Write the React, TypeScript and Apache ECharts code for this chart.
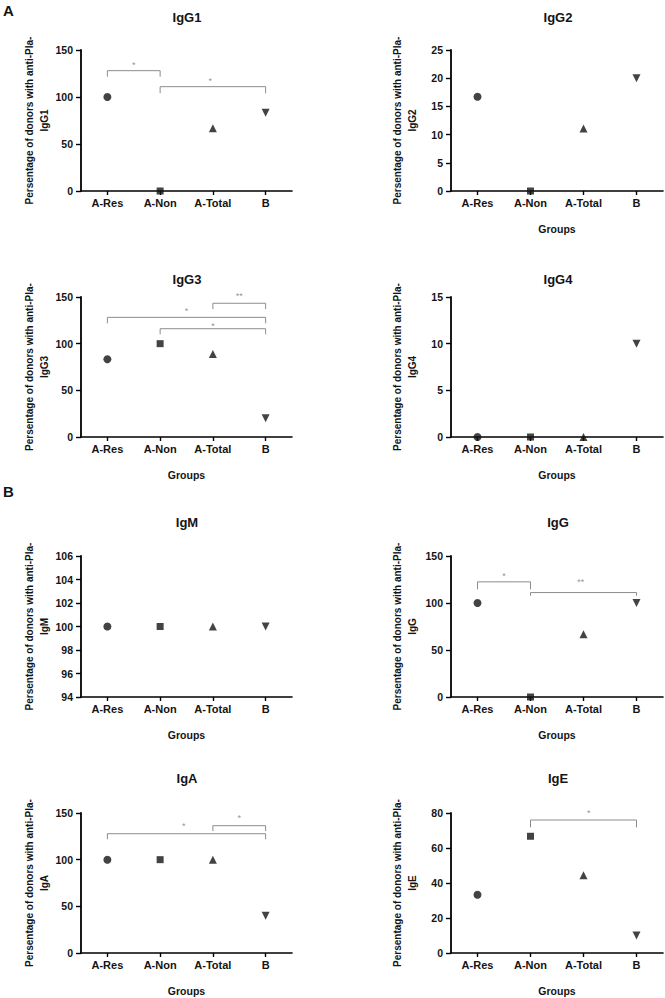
import React, { useEffect, useRef } from "react";
import * as echarts from "echarts";

// ---------- data ----------
const groups = ["A-Res", "A-Non", "A-Total", "B"];
const panelTitles = ["IgG1", "IgG2", "IgG3", "IgG4", "IgM", "IgG", "IgA", "IgE"];

const igg1 = [100, 0, 66.7, 83.3];
const igg2 = [16.7, 0, 11.1, 20];
const igg3 = [83.3, 100, 88.9, 20];
const igg4 = [0, 0, 0, 10];
const igm = [100, 100, 100, 100];
const igg = [100, 0, 66.7, 100];
const iga = [100, 100, 100, 40];
const ige = [33.3, 66.7, 44.4, 10];

const yMins = [0, 0, 0, 0, 94, 0, 0, 0];
const yMaxs = [150, 25, 150, 15, 106, 150, 150, 80];
const yIntervals = [50, 5, 50, 5, 2, 50, 50, 20];
const showGroupsLabel = [false, true, true, true, true, true, true, true];

// significance brackets (group indices): [from, to, top, leftEnd, rightEnd]
const igg1Brackets = [
  [0, 1, 128, 121.6, 121.6],
  [1, 3, 111, 104, 104],
];
const igg1Stars = [
  [0.5, 133.7, "*"],
  [1.95, 117, "*"],
];
const igg3Brackets = [
  [2, 3, 143.3, 137, 137],
  [0, 3, 128.2, 121.8, 121.8],
  [1, 3, 116, 110, 110],
];
const igg3Stars = [
  [2.5, 151.5, "**"],
  [1.5, 135, "*"],
  [2, 119, "*"],
];
const iggBrackets = [
  [0, 1, 122.5, 114.6, 114.6],
  [1, 3, 111.1, 107.7, 107.7],
];
const iggStars = [
  [0.5, 128.6, "*"],
  [1.95, 122, "**"],
];
const igaBrackets = [
  [2, 3, 136.4, 130.7, 130.7],
  [0, 3, 127.8, 121.8, 121.8],
];
const igaStars = [
  [2.5, 144.6, "*"],
  [1.45, 135.8, "*"],
];
const igeBrackets = [[1, 3, 76, 71.8, 71.8]];
const igeStars = [[2.1, 80.2, "*"]];

const panelValues = [igg1, igg2, igg3, igg4, igm, igg, iga, ige];
const panelBrackets = [igg1Brackets, [], igg3Brackets, [], [], iggBrackets, igaBrackets, igeBrackets];
const panelStars = [igg1Stars, [], igg3Stars, [], [], iggStars, igaStars, igeStars];

// ---------- layout / style ----------
const FONT = "'Liberation Sans', Arial, Helvetica, sans-serif";
const INK = "#141414";
const AXIS = "#000000";
const BRACKET = "#8c8c8c";
const colLeft = [81, 451];
const colWidth = [211, 212];
const rowTop = [50, 297, 556, 813];
const rowHeight = [141, 140, 141, 140];
const titleX = [187, 558];
const titleY = [17, 279, 522, 778];
const markerSymbols = ["circle", "rect", "triangle", "triangle"];
const markerRotate = [0, 0, 0, 180];
const markerSizes = [8, 7, 8, 8];
// hidden overlay x axis runs 0..4 (group index + 0.5)
const OVERLAY_SHIFT = 0.5;

export default function App() {
  const ref = useRef<HTMLDivElement>(null);

  useEffect(() => {
    if (!ref.current) return;
    const chart = echarts.init(ref.current, null, { renderer: "svg" });

    const grids: any[] = [];
    const xAxes: any[] = [];
    const yAxes: any[] = [];
    const series: any[] = [];
    const graphics: any[] = [];

    panelTitles.forEach((title, i) => {
      const col = i % 2;
      const row = Math.floor(i / 2);
      grids.push({
        left: colLeft[col],
        top: rowTop[row],
        width: colWidth[col],
        height: rowHeight[row],
      });
      xAxes.push({
        type: "category",
        gridIndex: i,
        data: groups,
        boundaryGap: true,
        axisLine: { show: true, onZero: false, lineStyle: { color: AXIS, width: 1.6 } },
        axisTick: { show: true, alignWithLabel: true, length: 4, lineStyle: { color: AXIS, width: 1.4 } },
        axisLabel: { fontSize: 11, fontWeight: "bold", color: INK, margin: 6, fontFamily: FONT },
        splitLine: { show: false },
        name: showGroupsLabel[i] ? "Groups" : "",
        nameLocation: "middle",
        nameGap: 32,
        nameTextStyle: { fontSize: 10.5, fontWeight: "bold", color: INK, fontFamily: FONT },
      });
      xAxes.push({
        type: "value",
        gridIndex: i,
        min: -0.5 + OVERLAY_SHIFT,
        max: 3.5 + OVERLAY_SHIFT,
        show: false,
        axisLine: { show: false, onZero: false },
        axisTick: { show: false },
        axisLabel: { show: false },
        splitLine: { show: false },
      });
      yAxes.push({
        type: "value",
        gridIndex: i,
        position: "left",
        min: yMins[i],
        max: yMaxs[i],
        interval: yIntervals[i],
        axisLine: { show: true, onZero: false, lineStyle: { color: AXIS, width: 1.8 } },
        axisTick: { show: true, length: 5, lineStyle: { color: AXIS, width: 1.4 } },
        axisLabel: { fontSize: 10.5, fontWeight: "bold", color: INK, margin: 8, fontFamily: FONT },
        splitLine: { show: false },
        name: "Persentage of donors with anti-Pla-\n" + title,
        nameLocation: "middle",
        nameRotate: 90,
        nameGap: col === 0 ? 27 : 31,
        nameTextStyle: {
          fontSize: 10,
          fontWeight: "bold",
          color: INK,
          fontFamily: FONT,
          lineHeight: 15,
        },
      });

      series.push({
        type: "scatter",
        xAxisIndex: 2 * i,
        yAxisIndex: i,
        clip: false,
        silent: true,
        itemStyle: { color: INK },
        data: panelValues[i].map((v, k) => ({
          value: v,
          symbol: markerSymbols[k],
          symbolRotate: markerRotate[k],
          symbolSize: markerSizes[k],
        })),
      });

      panelBrackets[i].forEach((b: any) => {
        const [from, to, top, le, re] = b;
        series.push({
          type: "line",
          xAxisIndex: 2 * i + 1,
          yAxisIndex: i,
          clip: false,
          silent: true,
          symbol: "none",
          lineStyle: { color: BRACKET, width: 1 },
          data: [
            [from + OVERLAY_SHIFT, le],
            [from + OVERLAY_SHIFT, top],
            [to + OVERLAY_SHIFT, top],
            [to + OVERLAY_SHIFT, re],
          ],
        });
      });

      if (panelStars[i].length) {
        series.push({
          type: "scatter",
          xAxisIndex: 2 * i + 1,
          yAxisIndex: i,
          clip: false,
          silent: true,
          symbolSize: 1,
          itemStyle: { color: "rgba(0,0,0,0)" },
          label: {
            show: true,
            position: "inside",
            fontSize: 9,
            color: "#777",
            fontFamily: FONT,
            formatter: (p: any) => p.data[2],
          },
          data: panelStars[i].map((s: any) => [s[0] + OVERLAY_SHIFT, s[1], s[2]]),
        });
      }

      graphics.push({
        type: "text",
        x: titleX[col],
        y: titleY[row],
        style: {
          text: title,
          font: `bold 13px ${FONT}`,
          fill: INK,
          textAlign: "center",
          textVerticalAlign: "middle",
        },
      });
    });

    graphics.push({
      type: "text",
      x: 3,
      y: 10,
      style: { text: "A", font: `bold 15px ${FONT}`, fill: INK, textAlign: "left", textVerticalAlign: "middle" },
    });
    graphics.push({
      type: "text",
      x: 3,
      y: 491,
      style: { text: "B", font: `bold 15px ${FONT}`, fill: INK, textAlign: "left", textVerticalAlign: "middle" },
    });

    chart.setOption({
      animation: false,
      backgroundColor: "#ffffff",
      textStyle: { fontFamily: FONT },
      grid: grids,
      xAxis: xAxes,
      yAxis: yAxes,
      series,
      graphic: graphics,
    });

    return () => {
      chart.dispose();
    };
  }, []);

  return (
    <div
      ref={ref}
      style={{ position: "absolute", left: 0, top: 0, width: 665, height: 998 }}
    />
  );
}
